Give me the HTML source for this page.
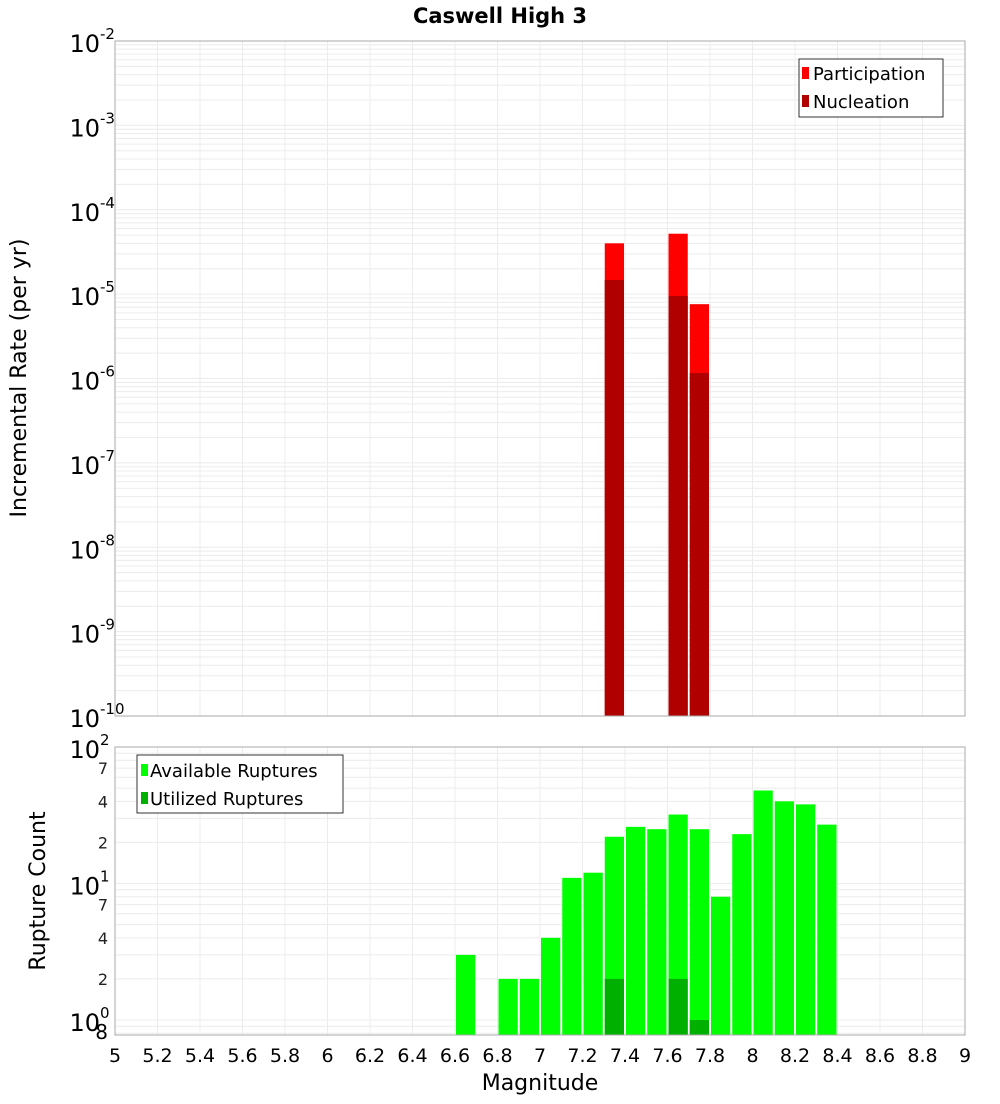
<!DOCTYPE html>
<html><head><meta charset="utf-8"><style>
body{margin:0;background:#fff;font-family:"DejaVu Sans","Liberation Sans",sans-serif;}
</style></head><body>
<svg id="c" width="1000" height="1100" xmlns="http://www.w3.org/2000/svg" font-family="DejaVu Sans, Liberation Sans, sans-serif">
<text x="500" y="23" text-anchor="middle" font-size="21" font-weight="bold">Caswell High 3</text>
<g id="top"></g><g id="bot"></g>
</svg>
<script>
const bins=[6.65,6.85,6.95,7.05,7.15,7.25,7.35,7.45,7.55,7.65,7.75,7.85,7.95,8.05,8.15,8.25,8.35];
const available=[3,2,2,4,11,12,22,26,25,32,25,8,23,48,40,38,27];
const utilBins=[7.35,7.65,7.75];
const utilized=[2,2,1];
const rateBins=[7.35,7.65,7.75];
const participation=[4.0e-5,5.2e-5,7.6e-6];
const nucleation=[1.47e-5,9.5e-6,1.16e-6];
const xTicks=[5,5.2,5.4,5.6,5.8,6,6.2,6.4,6.6,6.8,7,7.2,7.4,7.6,7.8,8,8.2,8.4,8.6,8.8,9];
const xTickLabels=["5","5.2","5.4","5.6","5.8","6","6.2","6.4","6.6","6.8","7","7.2","7.4","7.6","7.8","8","8.2","8.4","8.6","8.8","9"];
const topExps=[-2,-3,-4,-5,-6,-7,-8,-9,-10];
const botExps=[2,1,0];
const botMinor=[2,4,7];

const NS="http://www.w3.org/2000/svg";
const svg=document.getElementById('c');
function el(t,a,p){const e=document.createElementNS(NS,t);for(const k in a)e.setAttribute(k,a[k]);(p||svg).appendChild(e);return e;}
const X0=115,X1=965;
const xs=m=>X0+(m-5)/4*(X1-X0);
const T0=41,T1=716; const yt=v=>T0+(-2-Math.log10(v))*(T1-T0)/8;
const B0=747,B1=1035,BD=136.5; const yb=v=>B0+(2-Math.log10(v))*BD;
const gTop=document.getElementById('top'),gBot=document.getElementById('bot');

// top grid
el('rect',{x:X0,y:T0,width:X1-X0,height:T1-T0,fill:'#fff'},gTop);
for(let e=-10;e<-2;e++)for(let k=1;k<10;k++){const y=yt(k*Math.pow(10,e));if(y<T0||y>T1)continue;
 const l=el('line',{x1:X0,x2:X1,y1:y,y2:y,stroke:'#ececec','stroke-width':1},gTop);}
xTicks.forEach(m=>{const l=el('line',{x1:xs(m),x2:xs(m),y1:T0,y2:T1,stroke:'#ececec'},gTop);});
const bw=0.1*(X1-X0)/4;
rateBins.forEach((b,i)=>{const x=xs(b)-bw/2+1;
 const p=el('rect',{x:x,y:yt(participation[i]),width:bw-2,height:T1-yt(participation[i]),fill:'#ff0000'},gTop);
 const n=el('rect',{x:x,y:yt(nucleation[i]),width:bw-2,height:T1-yt(nucleation[i]),fill:'#b00000'},gTop);});
el('rect',{x:X0,y:T0,width:X1-X0,height:T1-T0,fill:'none',stroke:'#aaa'},gTop);
topExps.forEach(e=>{const y=yt(Math.pow(10,e));const t=el('text',{x:100,y:y+11,'text-anchor':'end','font-size':24},gTop);t.textContent='10';
 const s=el('text',{x:100,y:y-2,'font-size':15},gTop);s.textContent=String(e);});
const yl=el('text',{x:26,y:378,'text-anchor':'middle','font-size':22,transform:'rotate(-90 26 378)'},gTop);yl.textContent='Incremental Rate (per yr)';
// top legend
const lg=el('g',{},gTop);
el('rect',{x:799,y:59,width:144,height:58,fill:'#fff',stroke:'#333'},lg);
el('rect',{x:802,y:67,width:7,height:12,fill:'#ff0000'},lg);el('rect',{x:802,y:95,width:7,height:12,fill:'#b00000'},lg);
let t=el('text',{x:813,y:80,'font-size':18},lg);t.textContent='Participation';
t=el('text',{x:813,y:108,'font-size':18},lg);t.textContent='Nucleation';

// bottom
el('rect',{x:X0,y:B0,width:X1-X0,height:B1-B0,fill:'#fff'},gBot);
for(let e=-1;e<2;e++)for(let k=1;k<10;k++){const y=yb(k*Math.pow(10,e));if(y<B0||y>B1)continue;
 const l=el('line',{x1:X0,x2:X1,y1:y,y2:y,stroke:'#ececec'},gBot);}
xTicks.forEach(m=>{const l=el('line',{x1:xs(m),x2:xs(m),y1:B0,y2:B1,stroke:'#ececec'},gBot);});
bins.forEach((b,i)=>{const y=yb(available[i]);const r=el('rect',{x:xs(b)-bw/2+1,y:y,width:bw-2,height:B1-y,fill:'#00ff00'},gBot);});
utilBins.forEach((b,i)=>{const y=yb(utilized[i]);const r=el('rect',{x:xs(b)-bw/2+1,y:y,width:bw-2,height:B1-y,fill:'#00b000'},gBot);});
el('rect',{x:X0,y:B0,width:X1-X0,height:B1-B0,fill:'none',stroke:'#aaa'},gBot);
botExps.forEach(e=>{const y=yb(Math.pow(10,e));const tt=el('text',{x:100,y:y+11,'text-anchor':'end','font-size':24},gBot);tt.textContent='10';
 const s=el('text',{x:100,y:y-2,'font-size':15},gBot);s.textContent=String(e);});
[1,0].forEach(e=>botMinor.forEach(k=>{const y=yb(k*Math.pow(10,e));const tt=el('text',{x:108,y:y+6,'text-anchor':'end','font-size':16,fill:'#222'},gBot);tt.textContent=String(k);}));
t=el('text',{x:108,y:yb(0.8)+6,'text-anchor':'end','font-size':20},gBot);t.textContent='8';
const yl2=el('text',{x:45,y:891,'text-anchor':'middle','font-size':22,transform:'rotate(-90 45 891)'},gBot);yl2.textContent='Rupture Count';
xTicks.forEach((m,i)=>{const tt=el('text',{x:xs(m),y:1062,'text-anchor':'middle','font-size':19},gBot);tt.textContent=xTickLabels[i];});
const xl=el('text',{x:540,y:1090,'text-anchor':'middle','font-size':22},gBot);xl.textContent='Magnitude';
const lg2=el('g',{},gBot);
el('rect',{x:137,y:755,width:206,height:58,fill:'#fff',stroke:'#333'},lg2);
el('rect',{x:141,y:764,width:7,height:12,fill:'#00ff00'},lg2);el('rect',{x:141,y:792,width:7,height:12,fill:'#00b000'},lg2);
t=el('text',{x:150,y:777,'font-size':18},lg2);t.textContent='Available Ruptures';
t=el('text',{x:150,y:805,'font-size':18},lg2);t.textContent='Utilized Ruptures';
</script>
</body></html>
